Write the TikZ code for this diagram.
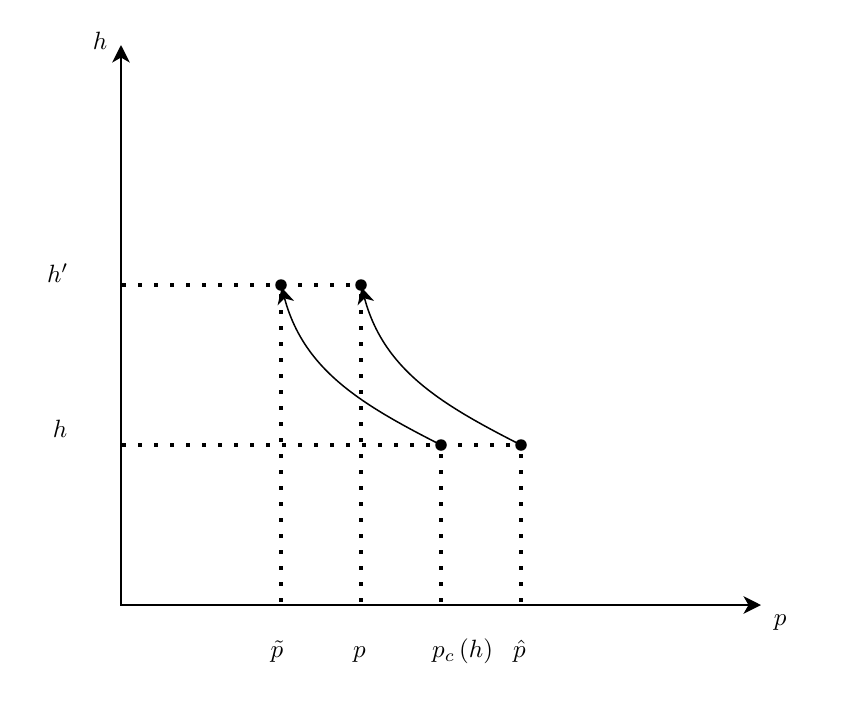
\documentclass[tikz,border=0pt]{standalone}
\usetikzlibrary{arrows.meta}
\begin{document}
\begin{tikzpicture}[x=32pt,y=32pt,
  axis/.style={line width=0.8pt,-{Stealth[length=7pt,width=7pt,inset=2pt]}},
  guide/.style={line width=1.4pt,dash pattern=on 1.4pt off 5pt},
  move/.style={line width=0.6pt,-{Stealth[length=6.5pt,width=6.8pt,inset=2pt]},shorten >=1pt},
  pt/.style={circle,fill=black,inner sep=0pt,minimum size=4.6pt},
  lab/.style={anchor=base,inner sep=0pt}]
\useasboundingbox (-1.5125,-1.4125) rectangle (9.0125,7.5625);
\coordinate (O) at (0,0);
\coordinate (ytop) at (0,7);
\coordinate (xend) at (8,0);
\coordinate (yh) at (0,2);
\coordinate (yhp) at (0,4);
\coordinate (xpt) at (2,0.04);
\coordinate (xp) at (3,0.04);
\coordinate (xpc) at (4,0.04);
\coordinate (xph) at (5,0.04);
\node[pt] (A) at (2,4) {};
\node[pt] (B) at (3,4) {};
\node[pt] (C) at (4,2) {};
\node[pt] (D) at (5,2) {};
% guides
\draw[guide] ([xshift=0.4pt]yhp) -- (B.center);
\draw[guide] ([xshift=0.4pt]yh) -- (D.center);
\draw[guide] (xpt) -- (A.center);
\draw[guide] (xp) -- (B.center);
\draw[guide] (xpc) -- (C.center);
\draw[guide] (xph) -- (D.center);
% axes
\draw[axis] (O) -- (ytop);
\draw[axis] ([xshift=-0.4pt]O) -- (xend);
% curves
\draw[move] (C.center) to[out=153,in=-75] (A.center);
\draw[move] (D.center) to[out=153,in=-75] (B.center);
% labels
\node[lab] (lh) at (-0.26,6.94) {$h$};
\node[lab] (lhp) at (-0.79,4.03) {$h'$};
\node[lab] (lhh) at (-0.76,2.09) {$h$};
\node[lab] (lp) at (8.24,-0.25) {$p$};
\node[lab] (lpt) at (1.95,-0.66) {$\tilde p$};
\node[lab] (lpp) at (2.98,-0.66) {$p$};
\node[lab] (lpc) at (4.27,-0.66) {$p_c\,(h)$};
\node[lab] (lph) at (4.98,-0.66) {$\hat p$};
\end{tikzpicture}
\end{document}
